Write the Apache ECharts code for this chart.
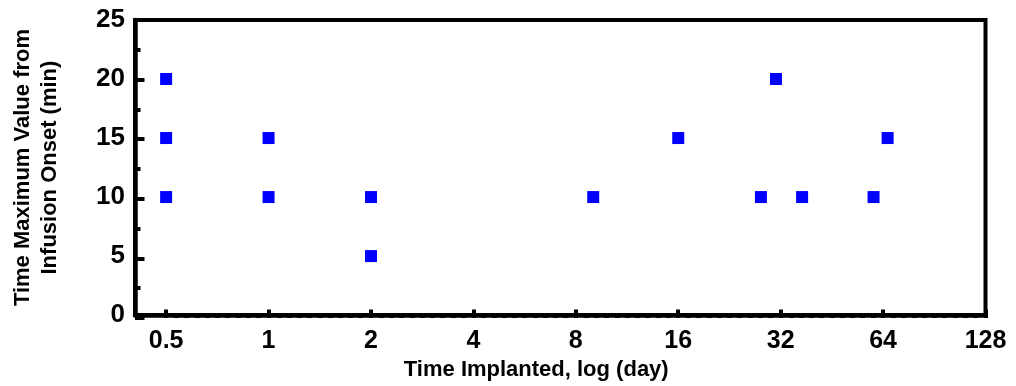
<!DOCTYPE html>
<html>
<head>
<meta charset="utf-8">
<script src="https://cdn.jsdelivr.net/npm/echarts@6/dist/echarts.min.js"></script>
<style>
html,body{margin:0;padding:0;background:#fff;}
#chart{width:1016px;height:386px;}
</style>
</head>
<body>
<div id="chart"></div>
<script>
// Data (days implanted, minutes to maximum value)
const daysImplanted = [0.5, 0.5, 0.5, 1, 1, 2, 2, 9, 16, 28, 31, 37, 60, 66];
const timeMaxValue  = [20, 15, 10, 15, 10, 10, 5, 10, 15, 10, 20, 10, 10, 15];
const xTickLabels = ['0.5', '1', '2', '4', '8', '16', '32', '64', '128'];
const yTickLabels = ['0', '5', '10', '15', '20', '25'];

const points = daysImplanted.map((d, i) => [d, timeMaxValue[i]]);
const FONT = "'Liberation Sans', Arial, sans-serif";

// layout
const W = 1016, GL = 135, GR = 30.5, GT = 20, GB = 68;
const X_MIN = 0.405, X_MAX = 128;
const plotW = W - GL - GR;
const lg = Math.log2;
// second grid carries the tick marks; its x range spans 0.5 .. 128 in log2 units
const grid2Left = GL + (lg(0.5) - lg(X_MIN)) / (lg(X_MAX) - lg(X_MIN)) * plotW;

const chart = echarts.init(document.getElementById('chart'), null, {renderer: 'canvas'});
chart.setOption({
  animation: false,
  backgroundColor: '#ffffff',
  grid: [
    {left: GL, right: GR, top: GT, bottom: GB,
     show: true, borderColor: '#000', borderWidth: 4, backgroundColor: 'transparent'},
    {left: grid2Left, right: GR, top: GT, bottom: GB, show: false}
  ],
  xAxis: [{
    type: 'log',
    logBase: 2,
    min: X_MIN,
    max: X_MAX,
    splitNumber: 8,
    name: 'Time Implanted, log (day)',
    nameLocation: 'middle',
    nameGap: 40,
    nameTextStyle: {fontFamily: FONT, fontWeight: 'bold', fontSize: 22, color: '#000', padding: [0, 48, 0, 0]},
    axisLine: {show: true, onZero: false, lineStyle: {color: '#000', width: 4.5}},
    axisTick: {show: false},
    minorTick: {show: false},
    splitLine: {show: false},
    axisLabel: {
      showMinLabel: false,
      fontFamily: FONT, fontWeight: 'bold', fontSize: 25, color: '#000', margin: 14,
      formatter: function (v) {
        const s = String(+v.toPrecision(3));
        return xTickLabels.indexOf(s) >= 0 ? s : '';
      }
    }
  }, {
    gridIndex: 1,
    type: 'value',
    min: -1,
    max: 7,
    interval: 1,
    axisLine: {show: false, onZero: false},
    axisTick: {show: true, inside: true, length: 8.5, lineStyle: {color: '#000', width: 4}},
    minorTick: {show: true, splitNumber: 10, length: 5, lineStyle: {color: '#000', width: 5}},
    axisLabel: {show: false},
    splitLine: {show: false}
  }],
  yAxis: [{
    type: 'value',
    min: 0,
    max: 25,
    interval: 5,
    name: 'Time Maximum Value from\nInfusion Onset (min)',
    nameLocation: 'middle',
    nameGap: 72,
    nameTextStyle: {fontFamily: FONT, fontWeight: 'bold', fontSize: 22, lineHeight: 27, color: '#000'},
    axisLine: {show: true, onZero: false, lineStyle: {color: '#000', width: 4.5}},
    axisTick: {show: false},
    minorTick: {show: false},
    splitLine: {show: false},
    axisLabel: {
      fontFamily: FONT, fontWeight: 'bold', fontSize: 26, color: '#000', margin: 10,
      formatter: function (v) { return yTickLabels[Math.round(v / 5)]; }
    }
  }, {
    gridIndex: 1,
    type: 'value',
    min: 0,
    max: 25,
    interval: 5,
    offset: grid2Left - GL,
    axisLine: {show: false, onZero: false},
    axisTick: {show: true, inside: true, length: 9.5, lineStyle: {color: '#000', width: 4}},
    minorTick: {show: true, splitNumber: 2, length: 5.5, lineStyle: {color: '#000', width: 4}},
    axisLabel: {show: false},
    splitLine: {show: false}
  }],
  series: [{
    type: 'scatter',
    xAxisIndex: 0,
    yAxisIndex: 0,
    data: points,
    symbol: 'rect',
    symbolSize: 12,
    itemStyle: {color: '#0000ff', opacity: 1}
  }, {
    type: 'scatter',
    xAxisIndex: 1,
    yAxisIndex: 1,
    data: [],
    silent: true
  }]
});
</script>
</body>
</html>
